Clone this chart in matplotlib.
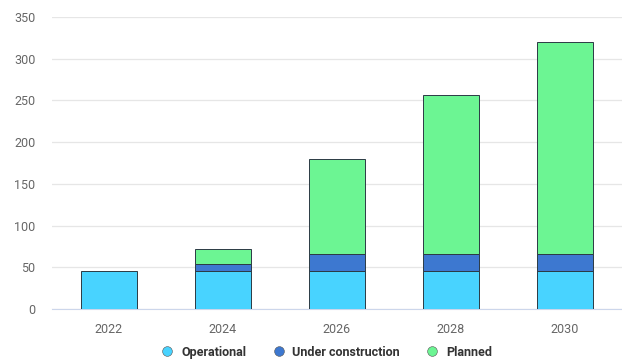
import numpy as np
import matplotlib.pyplot as plt
from matplotlib.lines import Line2D

years = ["2022", "2024", "2026", "2028", "2030"]
operational = [45, 45, 45, 45, 45]
under_construction = [0, 9, 21, 21, 21]
planned = [0, 18, 114, 191, 254]

colors = ["#48d3ff", "#3d78d0", "#6cf593"]
names = ["Operational", "Under construction", "Planned"]

plt.rcParams['font.family'] = ['Roboto', 'DejaVu Sans']

fig = plt.figure(figsize=(6.22, 3.6), dpi=100)
ax = fig.add_axes([0.0836, 0.1417, 0.9164, 0.8111])

x = np.arange(len(years))
w = 0.49
bottom = np.zeros(len(years))
for vals, c in zip([operational, under_construction, planned], colors):
    vals = np.array(vals, dtype=float)
    mask = vals > 0
    ax.bar(x[mask], vals[mask], w, bottom=bottom[mask], color=c,
           edgecolor="#2b3a44", linewidth=0.7, zorder=3)
    bottom += vals

ax.set_xlim(-0.5, 4.5)
ax.set_ylim(0, 350)
ax.set_yticks(range(0, 351, 50))
ax.set_xticks(x)
ax.set_xticklabels(years)
ax.grid(axis="y", color="#e6e6e6", linewidth=0.9, zorder=0)
for s in ["top", "right", "left"]:
    ax.spines[s].set_visible(False)
ax.spines["bottom"].set_color("#ccd6eb")
ax.tick_params(axis="both", length=0, colors="#666666", labelsize=9)
ax.tick_params(axis="x", pad=10)
ax.tick_params(axis="y", pad=12)

handles = [Line2D([], [], marker="o", linestyle="", markersize=7,
                  markerfacecolor=c, markeredgecolor="#555555", markeredgewidth=0.4)
           for c in colors]
leg = fig.legend(handles, names, loc="center", bbox_to_anchor=(0.52, 0.022),
                 ncol=3, frameon=False, fontsize=9, handletextpad=0.1,
                 columnspacing=1.6, prop={"weight": "bold", "size": 9})
for t in leg.get_texts():
    t.set_color("#333333")

fig.savefig("out.png", dpi=100)
